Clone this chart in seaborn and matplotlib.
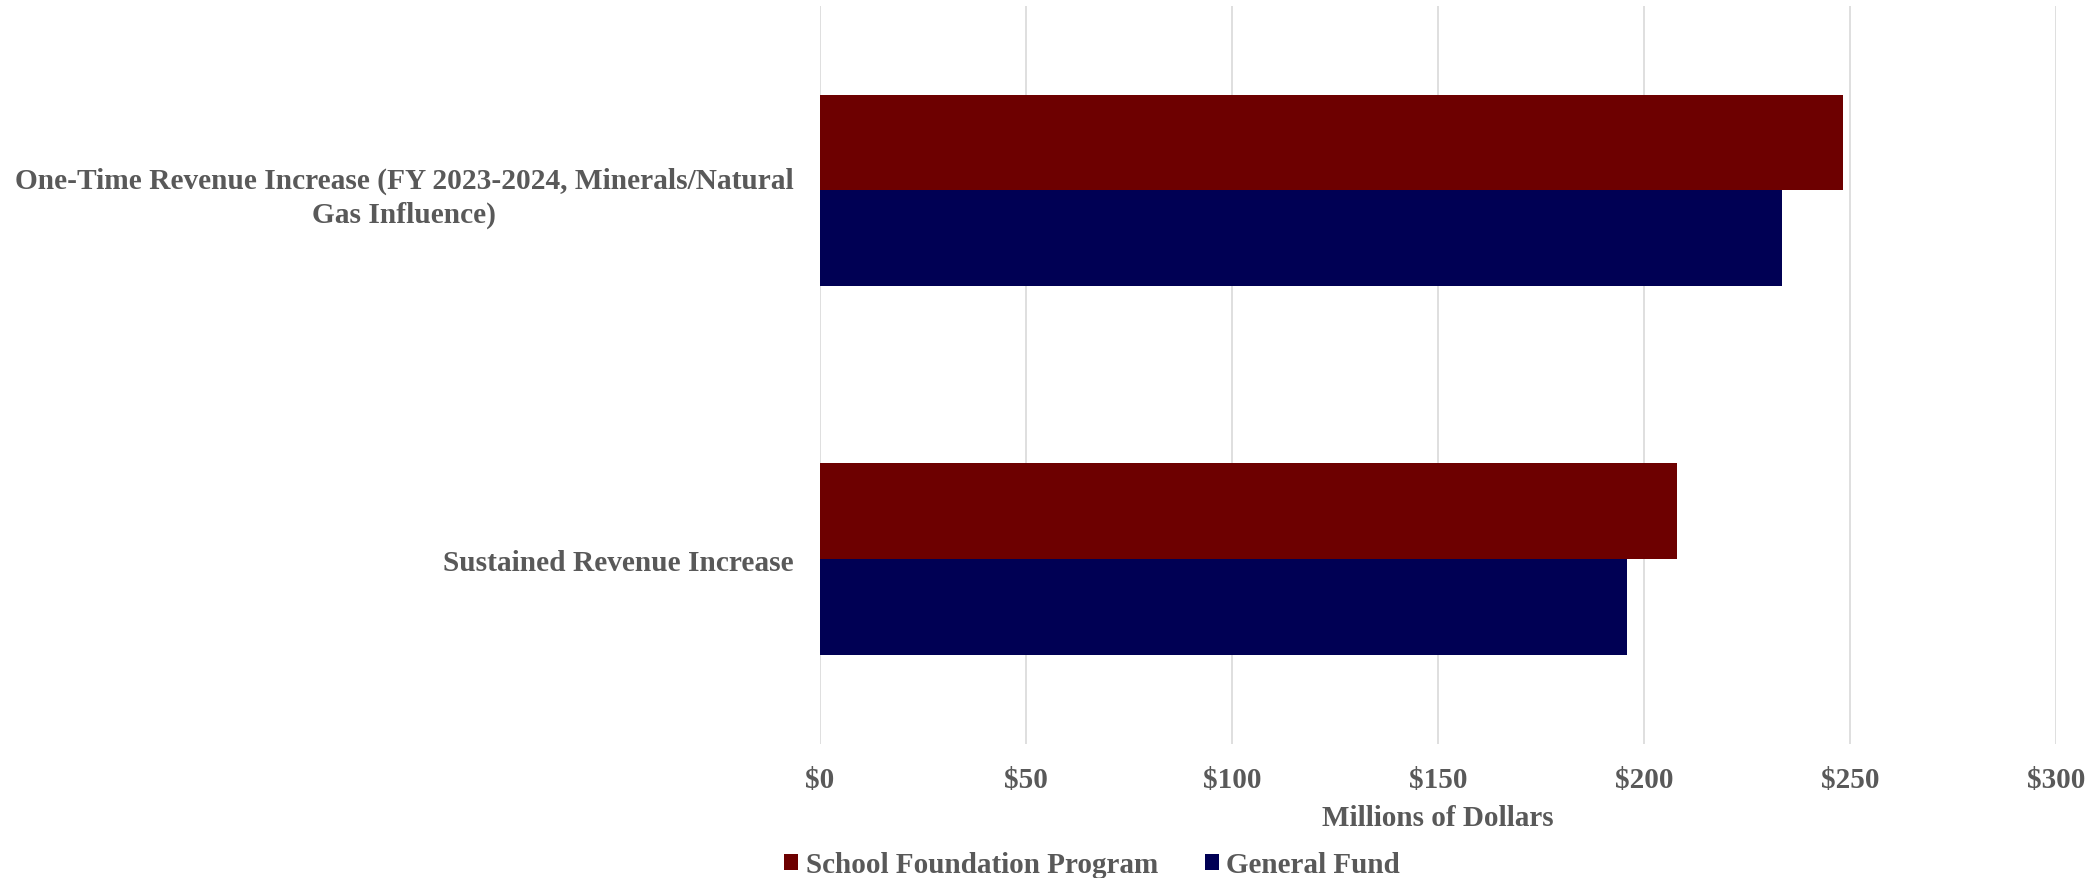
import matplotlib
matplotlib.use("Agg")
import matplotlib.pyplot as plt
import seaborn as sns
import pandas as pd
from matplotlib.ticker import FuncFormatter
from matplotlib.patches import Patch

categories = ["One-Time Revenue Increase (FY 2023-2024, Minerals/Natural\nGas Influence)",
              "Sustained Revenue Increase"]
series_names = ["School Foundation Program", "General Fund"]
school_foundation = [248.3, 208.0]
general_fund = [233.4, 195.9]
x_ticks = [0, 50, 100, 150, 200, 250, 300]

colors = {"School Foundation Program": "#6d0000", "General Fund": "#000054"}
gray = "#595959"

rows = []
for c, s, g in zip(categories, school_foundation, general_fund):
    rows.append({"cat": c, "series": series_names[0], "value": s})
    rows.append({"cat": c, "series": series_names[1], "value": g})
df = pd.DataFrame(rows)

sns.set_theme(style="white")
plt.rcParams['font.family'] = ['Liberation Serif', 'DejaVu Serif']
plt.rcParams['font.weight'] = 'bold'

fig = plt.figure(figsize=(20.98, 8.79), dpi=100)
ax = fig.add_axes([820/2098, 1-744.5/879, (2056-820)/2098, (744.5-7)/879])

sns.barplot(data=df, y="cat", x="value", hue="series", hue_order=series_names,
            order=categories, orient="h", palette=colors, width=0.52,
            saturation=1, ax=ax, legend=False, linewidth=0, edgecolor="none")

ax.set_xlim(0, 300)
ax.set_ylim(1.5, -0.5)
ax.set_xticks(x_ticks)
ax.xaxis.set_major_formatter(FuncFormatter(lambda v, p: f"${int(v)}"))
ax.grid(axis="x", color="#d9d9d9", linewidth=1.2)
ax.grid(axis="y", visible=False)
ax.set_axisbelow(True)
for sp in ax.spines.values():
    sp.set_visible(False)
ax.tick_params(axis="x", length=0, pad=16, labelsize=21, labelcolor=gray)
ax.tick_params(axis="y", length=0, pad=19, labelsize=21.2, labelcolor=gray)
for lbl in ax.get_xticklabels() + ax.get_yticklabels():
    lbl.set_fontweight("bold")
for lbl in ax.get_yticklabels():
    lbl.set_multialignment("center")
    lbl.set_linespacing(1.35)
ax.set_xlabel("")
ax.set_ylabel("")

fig.text(1438/2098, 1-819/879, "Millions of Dollars", ha="center", va="center",
         fontsize=21, fontweight="bold", color=gray)

handles = [Patch(facecolor=colors[n], edgecolor="none", label=n) for n in series_names]
leg = fig.legend(handles=handles, loc="center", bbox_to_anchor=(1092/2098, 1-866/879),
                 ncol=2, frameon=False, fontsize=21, handlelength=0.5, handleheight=0.5,
                 handletextpad=0.25, columnspacing=1.6, borderaxespad=0)
for t in leg.get_texts():
    t.set_color(gray)
    t.set_fontweight("bold")

fig.savefig("out.png", dpi=100)
